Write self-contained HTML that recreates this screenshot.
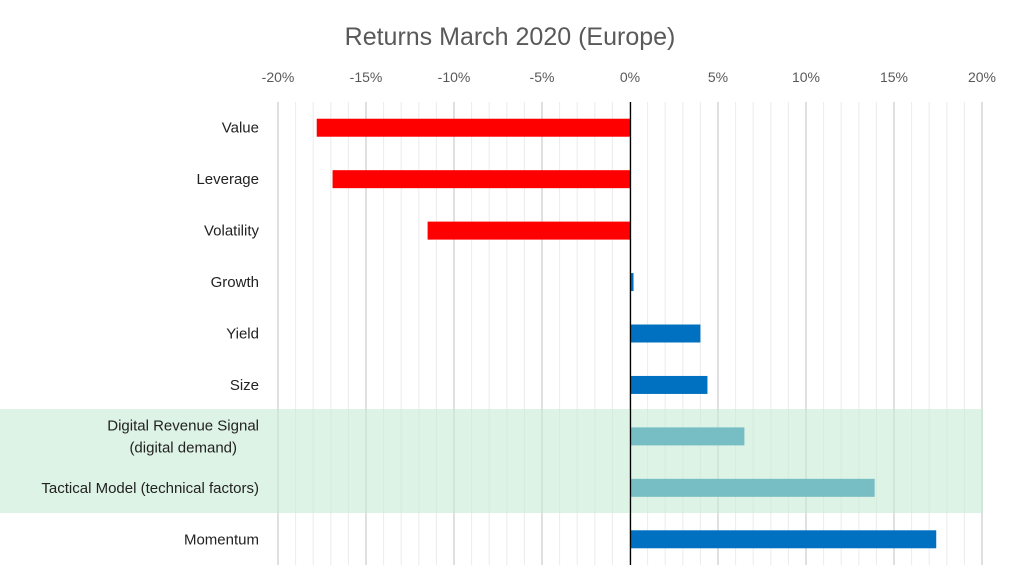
<!DOCTYPE html>
<html><head><meta charset="utf-8"><style>
html,body{margin:0;padding:0;background:#fff;}
svg{display:block;font-family:"Liberation Sans",sans-serif;}
</style></head><body>
<svg id="chart" width="1024" height="572" viewBox="0 0 1024 572">
<text x="510" y="45" text-anchor="middle" font-size="25" fill="#595959">Returns March 2020 (Europe)</text>
<g id="grid"></g>
<g id="bars"></g>
<rect x="0" y="409" width="983" height="104" fill="#c6ebd3" fill-opacity="0.6"></rect>
<g id="labels"></g>
<g id="ticks"></g>
<line x1="630.5" y1="102" x2="630.5" y2="565" stroke="#000" stroke-width="1.3"></line>
</svg>
<script>
const categories = ["Value","Leverage","Volatility","Growth","Yield","Size","Digital Revenue Signal|(digital demand)","Tactical Model (technical factors)","Momentum"];
const values = [-17.8,-16.9,-11.5,0.2,4.0,4.4,6.5,13.9,17.4];
const tickValues = [-20,-15,-10,-5,0,5,10,15,20];
const tickLabels = ["-20%","-15%","-10%","-5%","0%","5%","10%","15%","20%"];
const svgNS="http://www.w3.org/2000/svg";
const zeroX=630, pxPer=17.6, plotTop=102, plotBottom=565;
const bandH=(plotBottom-plotTop)/categories.length;
function xs(v){return zeroX+v*pxPer;}
function yc(i){return plotTop+bandH*(i+0.5);}
function mk(tag,attrs,parent){const e=document.createElementNS(svgNS,tag);for(const k in attrs)e.setAttribute(k,attrs[k]);document.getElementById(parent).appendChild(e);return e;}
for(let v=-20;v<=20;v++){
  const major=v%5===0;
  const l=mk("line",{x1:xs(v),x2:xs(v),y1:plotTop,y2:plotBottom,stroke:major?"#d0d0d0":"#ebebeb","stroke-width":major?1.3:1},"grid");
  
  
}
tickValues.forEach((v,i)=>{
  const t=mk("text",{x:xs(v),y:82,"text-anchor":"middle","font-size":14,fill:"#595959"},"ticks");
  t.textContent=tickLabels[i];
  
  
});
values.forEach((v,i)=>{
  const col=v<0?"#ff0000":(i===6||i===7?"#0078ad":"#0070c0");
  const r=mk("rect",{x:Math.min(xs(0),xs(v)),y:yc(i)-9,width:Math.abs(xs(v)-xs(0)),height:18,fill:col},"bars");
  
  
  const parts=categories[i].split("|");
  if(parts.length===1){
    const t=mk("text",{x:259,y:yc(i)+5,"text-anchor":"end","font-size":15,fill:"#222"},"labels");
    t.textContent=parts[0];
    
    
  } else {
    parts.forEach((p,j)=>{
      const t=mk("text",{x:j===0?259:237,y:yc(i)-6+j*22,"text-anchor":"end","font-size":15,fill:"#222"},"labels");
      t.textContent=p;
      
      
    });
  }
});
</script>
</body></html>
